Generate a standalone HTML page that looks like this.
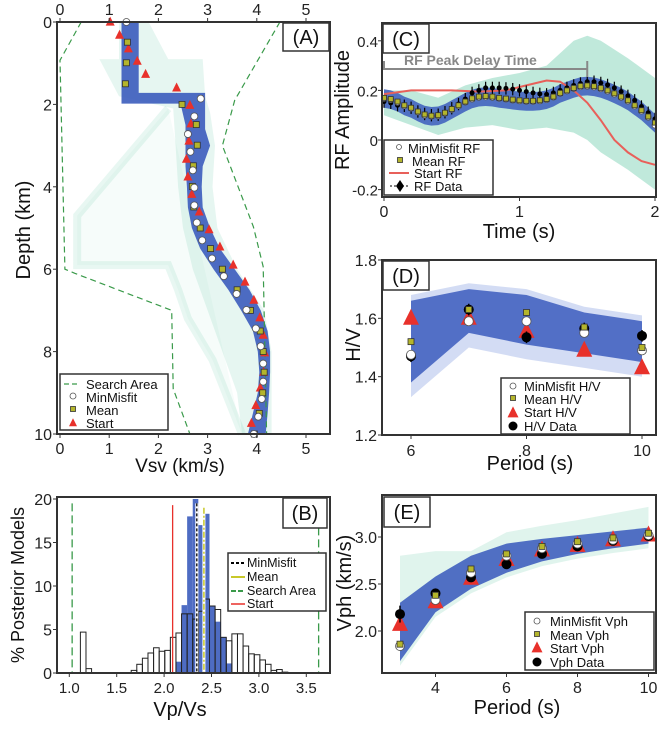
<!DOCTYPE html>
<html><head><meta charset="utf-8">
<style>
html,body{margin:0;padding:0;background:#fff;}
svg{display:block;font-family:"Liberation Sans",sans-serif;}
</style></head>
<body>
<svg id="fig" width="666" height="730" viewBox="0 0 666 730" xmlns="http://www.w3.org/2000/svg"></svg>
<script>
// ---------- Panel A data ----------
const aMinDepth=[0,1.86,1.86,2.29,2.72,3.15,3.6,4.02,4.45,4.87,5.3,5.74,6.17,6.6,6.99,7.44,7.87,8.29,8.73,9.15,9.58,10];
const aMinVs=[1.35,1.34,2.86,2.73,2.6,2.65,2.7,2.73,2.73,2.78,2.89,3.09,3.33,3.59,3.79,3.98,4.08,4.13,4.13,4.1,4.03,3.94];
const aMeanDepth=[0.49,0.99,1.5,2.0,2.49,2.99,3.49,3.99,4.49,5.0,5.5,6.0,6.5,7.0,7.5,8.0,8.5,9.0,9.5,10];
const aMeanVs=[1.37,1.35,1.33,2.48,2.77,2.79,2.71,2.69,2.72,2.85,3.06,3.3,3.6,3.87,4.07,4.13,4.15,4.12,4.05,3.95];
const aStartDepth=[0,0.32,0.65,0.95,1.27,1.6,2.02,2.47,2.89,3.33,3.76,4.18,4.61,5.04,5.46,5.9,6.31,6.75,7.18,7.6,8.03,8.5,8.88,9.31,9.74];
const aStartVs=[1.02,1.21,1.39,1.57,1.74,2.37,2.64,2.66,2.62,2.57,2.6,2.68,2.83,3.03,3.25,3.52,3.76,3.94,4.06,4.13,4.16,4.14,4.07,3.98,3.89];
const aSearchLDepth=[0,0.93,6.0,6.1,6.95,7.0,8.9,10];
const aSearchLVs=[0.43,0.0,0.1,0.3,2.16,2.27,2.3,2.64];
const aSearchRDepth=[0,1.9,3.0,4.97,5.94,10];
const aSearchRVs=[4.47,3.55,3.3,3.93,4.13,4.2];
const aBlueRDepth=[0,1.72,1.72,2.6,3.0,3.5,4.0,4.5,5.0,5.5,6.0,6.5,7.0,7.5,8.0,8.5,9.0,9.5,10];
const aBlueRVs=[1.6,1.6,2.95,2.95,3.05,2.9,2.88,2.9,3.05,3.25,3.55,3.85,4.08,4.22,4.27,4.27,4.25,4.22,4.18];
const aBlueLDepth=[0,1.98,1.98,2.5,3.0,3.5,4.0,4.5,5.0,5.5,6.0,6.5,7.0,7.5,8.0,8.5,9.0,9.5,10];
const aBlueLVs=[1.25,1.25,2.45,2.55,2.55,2.55,2.58,2.6,2.68,2.85,3.12,3.42,3.68,3.92,4.02,4.05,4.02,3.92,3.82];
const aGreenRDepth=[0,0.9,0.9,1.8,2.2,3.0,4.0,5.0,6.0,7.0,8.0,9.0,10];
const aGreenRVs=[1.8,2.2,2.9,2.95,3.05,3.15,3.1,3.2,3.6,4.15,4.3,4.3,4.3];
const aGreenLDepth=[0,0.9,0.9,1.8,2.1,3.0,4.0,5.0,6.0,7.0,8.0,9.0,10];
const aGreenLVs=[1.2,1.2,0.8,1.2,2.3,2.35,2.4,2.5,2.7,3.0,3.3,3.6,3.7];
const aStreak1Depth=[2.1,4.7,4.7,5.9,5.9,6.5,7.2,8.2,10];
const aStreak1Vs=[2.2,0.35,0.35,0.35,2.2,2.4,2.6,3.1,3.7];
const aTicks=[0,1,2,3,4,5];
const aDepthTicks=[0,2,4,6,8,10];
// ---------- Panel B data ----------
const bBinWidth=0.059;
const bWhiteStart=[1.117,1.176,1.653,1.712,1.771,1.830,1.889,1.948,2.007,2.066,2.125,2.184,2.243,2.302,2.361,2.420,2.479,2.538,2.597,2.656,2.715,2.774,2.833,2.892,2.951,3.010,3.069,3.128,3.187,3.246];
const bWhiteVal=[4.7,0.5,0.3,1.0,1.7,2.3,2.9,2.5,2.6,4.1,4.6,6.8,6.8,6.2,7.1,8.5,7.7,7.3,4.1,3.7,4.5,4.5,3.1,2.2,2.1,1.5,1.0,0.3,0.4,0.1];
const bBlueStart=[2.125,2.184,2.243,2.302,2.361,2.420,2.479,2.538,2.597,2.656];
const bBlueVal=[1.3,7.8,18,20,17,18.3,7.7,5.9,4.1,1.1];
const bStart=2.09, bMinMisfit=2.345, bMean=2.42, bSearch=[1.03,3.63];
const bXTicks=[1.0,1.5,2.0,2.5,3.0,3.5];
const bYTicks=[0,5,10,15,20];
// ---------- Panel C data ----------
const cTime=[0,.05,.1,.15,.2,.25,.3,.35,.4,.45,.5,.55,.6,.65,.7,.75,.8,.85,.9,.95,1.0,1.05,1.1,1.15,1.2,1.25,1.3,1.35,1.4,1.45,1.5,1.55,1.6,1.65,1.7,1.75,1.8,1.85,1.9,1.95,2.0];
const cMean=[.17,.165,.155,.14,.13,.115,.103,.098,.1,.11,.125,.14,.155,.168,.175,.177,.175,.17,.167,.163,.16,.158,.158,.16,.165,.175,.19,.2,.21,.218,.22,.217,.21,.2,.188,.175,.16,.14,.12,.095,.07];
const cMin=[.168,.163,.152,.138,.128,.113,.1,.096,.098,.108,.123,.138,.153,.165,.172,.174,.172,.168,.165,.161,.158,.156,.156,.158,.163,.173,.188,.198,.208,.215,.217,.214,.207,.197,.185,.172,.157,.137,.117,.092,.06];
const cData=[.155,.15,.14,.138,.13,.115,.105,.1,.102,.112,.128,.145,.165,.19,.2,.21,.21,.21,.208,.205,.2,.195,.19,.186,.184,.19,.2,.21,.22,.228,.235,.235,.23,.222,.21,.195,.178,.16,.135,.11,.085];
const cStartT=[0,0.2,0.5,0.7,0.9,1.05,1.2,1.3,1.4,1.5,1.6,1.7,1.8,1.9,2.0];
const cStartV=[0.185,0.2,0.2,0.195,0.2,0.22,0.24,0.235,0.2,0.15,0.08,0.0,-0.05,-0.085,-0.1];
const cGreenT=[0,0.2,0.4,0.6,0.8,1.0,1.2,1.4,1.5,1.6,1.8,2.0];
const cGreenLo=[0.1,0.06,0.02,0.05,0.06,0.04,0.05,0.03,0.0,-0.05,-0.12,-0.2];
const cGreenHi=[0.2,0.2,0.17,0.22,0.25,0.27,0.3,0.4,0.42,0.4,0.33,0.25];
const cXTicks=[0,1,2];
const cYTicks=[-0.2,0,0.2,0.4];
const cYLabels=["-0.2","0","0.2","0.4"];
// ---------- Panel D data ----------
const dPeriod=[6,7,8,9,10];
const dMin=[1.475,1.59,1.59,1.55,1.49];
const dMean=[1.52,1.63,1.62,1.57,1.50];
const dStart=[1.60,1.60,1.555,1.49,1.43];
const dData=[1.47,1.63,1.535,1.565,1.54];
const dLo=[1.38,1.55,1.51,1.48,1.45];
const dHi=[1.66,1.7,1.68,1.62,1.59];
const dXTicks=[6,8,10];
const dYTicks=[1.2,1.4,1.6,1.8];
// ---------- Panel E data ----------
const ePeriod=[3,4,5,6,7,8,9,10];
const eMin=[1.84,2.33,2.62,2.8,2.88,2.93,2.97,3.02];
const eMean=[1.86,2.38,2.66,2.82,2.9,2.95,2.99,3.04];
const eStart=[2.07,2.31,2.56,2.76,2.86,2.91,2.97,3.02];
const eData=[2.18,2.40,2.57,2.71,2.82,2.9,2.96,3.01];
const eLo=[1.68,2.2,2.45,2.62,2.74,2.82,2.88,2.93];
const eHi=[2.3,2.58,2.8,2.93,2.98,3.02,3.06,3.1];
const eGreenHi=[2.8,2.85,2.85,3.05,3.12,3.18,3.25,3.32];
const eXTicks=[4,6,8,10];
const eYTicks=[2.0,2.5,3.0];

const NS="http://www.w3.org/2000/svg";
const svg=document.getElementById('fig');
function mk(tag,attrs,parent){const e=document.createElementNS(NS,tag);for(const k in attrs)e.setAttribute(k,attrs[k]);(parent||svg).appendChild(e);return e;}
function txt(s,attrs,parent){const e=mk('text',attrs,parent);e.textContent=s;return e;}
function pts(xs,ys,fx,fy){return xs.map((x,i)=>fx(x).toFixed(1)+','+fy(ys[i]).toFixed(1)).join(' ');}
function bandPts(xs,lo,hi,fx,fy){return pts(xs,hi,fx,fy)+' '+pts(xs.slice().reverse(),lo.slice().reverse(),fx,fy);}
const BLUE='#3b5cbd',GREEN='#62c8a6',RED='#e8312b',OLIVE='#b4b52c';
function circ(g,x,y,r){const e=mk('circle',{cx:x,cy:y,r:r,fill:'#fff',stroke:'#555','stroke-width':0.8},g);return e;}
function sq(g,x,y,s){return mk('rect',{x:x-s/2,y:y-s/2,width:s,height:s,fill:OLIVE,stroke:'#333','stroke-width':0.8},g);}
function tri(g,x,y,s){return mk('polygon',{points:`${x},${y-s*0.6} ${x-s/2},${y+s*0.4} ${x+s/2},${y+s*0.4}`,fill:RED},g);}
function dot(g,x,y,r){return mk('circle',{cx:x,cy:y,r:r,fill:'#000'},g);}

// ================= PANEL A =================
const xA=v=>60+v*49.2, yA=d=>22+d*41.2;
let gA=mk('g',{});


let e;
e=mk('polygon',{points:pts(aGreenRDepth.map((d,i)=>aGreenRVs[i]),aGreenRDepth,xA,yA)+' '+pts(aGreenLVs.slice().reverse(),aGreenLDepth.slice().reverse(),xA,yA),fill:GREEN,opacity:0.16},gA);


e=mk('polyline',{points:pts(aStreak1Vs,aStreak1Depth,xA,yA),fill:GREEN,'fill-opacity':0.06,stroke:GREEN,'stroke-opacity':0.15,'stroke-width':8},gA);


e=mk('polygon',{points:pts(aBlueRVs,aBlueRDepth,xA,yA)+' '+pts(aBlueLVs.slice().reverse(),aBlueLDepth.slice().reverse(),xA,yA),fill:BLUE,opacity:0.9},gA);


e=mk('polyline',{points:pts(aSearchLVs,aSearchLDepth,xA,yA),fill:'none',stroke:'#3a9a4a','stroke-width':1.2,'stroke-dasharray':'6,4'},gA);


e=mk('polyline',{points:pts(aSearchRVs,aSearchRDepth,xA,yA),fill:'none',stroke:'#3a9a4a','stroke-width':1.2,'stroke-dasharray':'6,4'},gA);


aStartDepth.forEach((d,i)=>{const t=tri(gA,xA(aStartVs[i]),yA(d),9);

});
aMeanDepth.forEach((d,i)=>{const t=sq(gA,xA(aMeanVs[i]),yA(d),6);

});
aMinDepth.forEach((d,i)=>{if(i===1)return;const t=circ(gA,xA(aMinVs[i]),yA(d),3.5);

});
e=mk('rect',{x:57,y:22,width:273,height:412,fill:'none',stroke:'#333','stroke-width':2},gA);


aTicks.forEach(v=>{
 mk('line',{x1:xA(v),x2:xA(v),y1:434,y2:438,stroke:'#333'},gA);
 mk('line',{x1:xA(v),x2:xA(v),y1:22,y2:18,stroke:'#333'},gA);
 const t1=txt(String(v),{x:xA(v),y:454,'font-size':16,'text-anchor':'middle',fill:'#222'},gA);
 
 
 const t2=txt(String(v),{x:xA(v),y:15,'font-size':16,'text-anchor':'middle',fill:'#222'},gA);
 
 
});
aDepthTicks.forEach(v=>{
 mk('line',{x1:57,x2:53,y1:yA(v),y2:yA(v),stroke:'#333'},gA);
 const t=txt(String(v),{x:52,y:yA(v)+6,'font-size':16,'text-anchor':'end',fill:'#222'},gA);
 
 
});
e=txt('Vsv (km/s)',{x:180,y:472,'font-size':19,'text-anchor':'middle',fill:'#111'},gA);


e=txt('Depth (km)',{x:0,y:0,'font-size':20,'text-anchor':'middle',fill:'#111',transform:'translate(30,230) rotate(-90)'},gA);


e=mk('rect',{x:283,y:23,width:46,height:28,fill:'#fff',stroke:'#333','stroke-width':1.5},gA);


e=txt('(A)',{x:306,y:44,'font-size':20,'text-anchor':'middle',fill:'#111'},gA);


let lgA=mk('g',{},gA);


mk('rect',{x:60,y:374,width:108,height:56,fill:'#fff',stroke:'#333','stroke-width':1.5},lgA);
mk('line',{x1:64,x2:80,y1:384,y2:384,stroke:'#3a9a4a','stroke-dasharray':'5,3','stroke-width':1.2},lgA);
e=txt('Search Area',{x:86,y:389,'font-size':13,fill:'#111'},lgA);


circ(lgA,73,396,3);
e=txt('MinMisfit',{x:86,y:402,'font-size':13,fill:'#111'},lgA);


sq(lgA,73,409,5);
e=txt('Mean',{x:86,y:415,'font-size':13,fill:'#111'},lgA);


tri(lgA,73,423,8);
e=txt('Start',{x:86,y:428,'font-size':13,fill:'#111'},lgA);



// ================= PANEL B =================
const xB=v=>69.3+(v-1)*94.8, yB=p=>673-p*8.7;
let gB=mk('g',{});


bWhiteStart.forEach((s,i)=>{const r=mk('rect',{x:xB(s),y:yB(bWhiteVal[i]),width:xB(s+bBinWidth)-xB(s),height:673-yB(bWhiteVal[i]),fill:'#fff'},gB);

});
bBlueStart.forEach((s,i)=>{const r=mk('rect',{x:xB(s),y:yB(bBlueVal[i]),width:xB(s+bBinWidth)-xB(s),height:673-yB(bBlueVal[i]),fill:BLUE,opacity:0.9},gB);

});
bWhiteStart.forEach((s,i)=>{const r=mk('rect',{x:xB(s),y:yB(bWhiteVal[i]),width:xB(s+bBinWidth)-xB(s),height:673-yB(bWhiteVal[i]),fill:'none',stroke:'#222','stroke-width':1},gB);

});
bSearch.forEach(v=>{const l=mk('line',{x1:xB(v),x2:xB(v),y1:yB(19.5),y2:673,stroke:'#3a9a4a','stroke-width':1.3,'stroke-dasharray':'8,4'},gB);

});
e=mk('line',{x1:xB(bStart),x2:xB(bStart),y1:yB(19.3),y2:673,stroke:RED,'stroke-width':1.3},gB);


e=mk('line',{x1:xB(bMinMisfit),x2:xB(bMinMisfit),y1:yB(19.5),y2:673,stroke:'#fff','stroke-width':3},gB);


e=mk('line',{x1:xB(bMinMisfit),x2:xB(bMinMisfit),y1:yB(19.5),y2:673,stroke:'#000','stroke-width':1.3,'stroke-dasharray':'3,2'},gB);


e=mk('line',{x1:xB(bMean),x2:xB(bMean),y1:yB(19),y2:673,stroke:'#fff','stroke-width':3},gB);


e=mk('line',{x1:xB(bMean),x2:xB(bMean),y1:yB(19),y2:673,stroke:'#c8c82a','stroke-width':1.5,'stroke-dasharray':'6,2,2,2'},gB);


e=mk('rect',{x:57,y:497,width:273,height:176,fill:'none',stroke:'#333','stroke-width':2},gB);


bXTicks.forEach(v=>{mk('line',{x1:xB(v),x2:xB(v),y1:673,y2:677,stroke:'#333'},gB);
 const t=txt(v.toFixed(1),{x:xB(v),y:693,'font-size':15,'text-anchor':'middle',fill:'#222'},gB);
 
 });
bYTicks.forEach(v=>{mk('line',{x1:57,x2:53,y1:yB(v),y2:yB(v),stroke:'#333'},gB);
 const t=txt(String(v),{x:52,y:yB(v)+6,'font-size':16,'text-anchor':'end',fill:'#222'},gB);
 
 });
e=txt('Vp/Vs',{x:180,y:716,'font-size':20,'text-anchor':'middle',fill:'#111'},gB);


e=txt('% Posterior Models',{x:0,y:0,'font-size':18,'text-anchor':'middle',fill:'#111',transform:'translate(24,585) rotate(-90)'},gB);


e=mk('rect',{x:283,y:498,width:44,height:30,fill:'#fff',stroke:'#333','stroke-width':1.5},gB);


e=txt('(B)',{x:305,y:520,'font-size':20,'text-anchor':'middle',fill:'#111'},gB);


let lgB=mk('g',{},gB);


mk('rect',{x:228,y:553,width:98,height:58,fill:'#fff',stroke:'#333','stroke-width':1.5},lgB);
mk('line',{x1:231,x2:245,y1:563,y2:563,stroke:'#000','stroke-width':2,'stroke-dasharray':'3,2'},lgB);
e=txt('MinMisfit',{x:247,y:567,'font-size':12.5,fill:'#111'},lgB);


mk('line',{x1:231,x2:245,y1:577,y2:577,stroke:'#c8c82a','stroke-width':2},lgB);
e=txt('Mean',{x:247,y:581,'font-size':12.5,fill:'#111'},lgB);


mk('line',{x1:231,x2:245,y1:591,y2:591,stroke:'#3a9a4a','stroke-width':2,'stroke-dasharray':'5,2'},lgB);
e=txt('Search Area',{x:247,y:595,'font-size':12.5,fill:'#111'},lgB);


mk('line',{x1:231,x2:245,y1:604,y2:604,stroke:RED,'stroke-width':1.5},lgB);
e=txt('Start',{x:247,y:608,'font-size':12.5,fill:'#111'},lgB);



// ================= PANEL C =================
const xC=t=>384+t*135.5, yC=a=>140-a*248;
let gC=mk('g',{});


mk('defs',{},gC).innerHTML='<clipPath id="clipC"><rect x="382" y="23" width="274" height="174"/></clipPath><clipPath id="clipD"><rect x="382" y="260" width="274" height="175"/></clipPath><clipPath id="clipE"><rect x="382" y="495" width="274" height="178"/></clipPath>';
let gCc=mk('g',{'clip-path':'url(#clipC)'},gC);
e=mk('polygon',{points:bandPts(cGreenT,cGreenLo,cGreenHi,xC,yC),fill:GREEN,opacity:0.4},gCc);


e=mk('polygon',{points:bandPts(cTime,cMean.map(v=>v-0.04),cMean.map(v=>v+0.035),xC,yC),fill:BLUE,opacity:0.85},gCc);


e=mk('polyline',{points:pts(cStartT,cStartV,xC,yC),fill:'none',stroke:'#e8605a','stroke-width':2},gCc);


cTime.forEach((t,i)=>{
 const l=mk('line',{x1:xC(t),x2:xC(t),y1:yC(cData[i]+0.025),y2:yC(cData[i]-0.025),stroke:'#000','stroke-width':1.2},gCc);
 
 
 const d=dot(gCc,xC(t),yC(cData[i]),2.5);
 
 
});
cTime.forEach((t,i)=>{const c=circ(gCc,xC(t),yC(cMin[i]),3);
 
 
 const s=sq(gCc,xC(t),yC(cMean[i]),5);
 
 });
e=mk('rect',{x:382,y:23,width:274,height:174,fill:'none',stroke:'#333','stroke-width':2},gC);


cXTicks.forEach(v=>{mk('line',{x1:xC(v),x2:xC(v),y1:197,y2:201,stroke:'#333'},gC);
 const t=txt(String(v),{x:xC(v),y:217,'font-size':16,'text-anchor':'middle',fill:'#222'},gC);
 
 });
cYTicks.forEach((v,i)=>{mk('line',{x1:382,x2:378,y1:yC(v),y2:yC(v),stroke:'#333'},gC);
 const t=txt(cYLabels[i],{x:378,y:yC(v)+6,'font-size':15,'text-anchor':'end',fill:'#222'},gC);
 
 });
e=txt('Time (s)',{x:519,y:238,'font-size':20,'text-anchor':'middle',fill:'#111'},gC);


e=txt('RF Amplitude',{x:0,y:0,'font-size':20,'text-anchor':'middle',fill:'#111',transform:'translate(349,110) rotate(-90)'},gC);


e=mk('polyline',{points:`${xC(0)},61 ${xC(0)},69 ${xC(1.5)},69`,fill:'none',stroke:'#888','stroke-width':2},gC);


e=mk('line',{x1:xC(1.5),x2:xC(1.5),y1:61,y2:77,stroke:'#888','stroke-width':2},gC);


e=txt('RF Peak Delay Time',{x:404,y:65,'font-size':14,'font-weight':'bold',fill:'#888'},gC);


e=mk('rect',{x:383,y:24,width:46,height:29,fill:'#fff',stroke:'#333','stroke-width':1.5},gC);


e=txt('(C)',{x:406,y:46,'font-size':20,'text-anchor':'middle',fill:'#111'},gC);


let lgC=mk('g',{},gC);


mk('rect',{x:384,y:140,width:109,height:55,fill:'#fff',stroke:'#333','stroke-width':1.5},lgC);
circ(lgC,399,147,2.5);
e=txt('MinMisfit RF',{x:408,y:153,'font-size':13,fill:'#111'},lgC);


sq(lgC,400,160,5);
e=txt('Mean RF',{x:412,y:166,'font-size':13,fill:'#111'},lgC);


mk('line',{x1:389,x2:409,y1:173,y2:173,stroke:'#e8605a','stroke-width':2},lgC);
e=txt('Start RF',{x:414,y:178,'font-size':13,fill:'#111'},lgC);


mk('line',{x1:390,x2:410,y1:186,y2:186,stroke:'#000','stroke-dasharray':'2,2'},lgC);
mk('polygon',{points:'400,180 404,186 400,192 396,186',fill:'#000'},lgC);
e=txt('RF Data',{x:414,y:191,'font-size':13,fill:'#111'},lgC);



// ================= PANEL D =================
const xD=p=>411+(p-6)*57.75, yD=h=>435-(h-1.2)*291.7;
let gD=mk('g',{});


let gDc=mk('g',{'clip-path':'url(#clipD)'},gD);
e=mk('polygon',{points:bandPts(dPeriod,dLo.map(v=>v-0.05),dHi.map(v=>v+0.02),xD,yD),fill:'#b5c4ec',opacity:0.6},gDc);


e=mk('polygon',{points:bandPts(dPeriod,dLo,dHi,xD,yD),fill:BLUE,opacity:0.85},gDc);


dPeriod.forEach((p,i)=>{
 let m=tri(gDc,xD(p),yD(dStart[i]),16);
 
 
 m=mk('line',{x1:xD(p),x2:xD(p),y1:yD(dData[i]+0.02),y2:yD(dData[i]-0.02),stroke:'#000','stroke-width':1.5},gDc);
 
 
 m=dot(gDc,xD(p),yD(dData[i]),5);
 
 
 m=circ(gDc,xD(p),yD(dMin[i]),4.5);
 
 
 m=sq(gDc,xD(p),yD(dMean[i]),6);
 
 
});
e=mk('rect',{x:382,y:260,width:274,height:175,fill:'none',stroke:'#333','stroke-width':2},gD);


dXTicks.forEach(v=>{mk('line',{x1:xD(v),x2:xD(v),y1:435,y2:439,stroke:'#333'},gD);
 const t=txt(String(v),{x:xD(v),y:456,'font-size':16,'text-anchor':'middle',fill:'#222'},gD);
 
 });
dYTicks.forEach(v=>{mk('line',{x1:382,x2:378,y1:yD(v),y2:yD(v),stroke:'#333'},gD);
 const t=txt(v.toFixed(1),{x:377,y:yD(v)+6,'font-size':16,'text-anchor':'end',fill:'#222'},gD);
 
 });
e=txt('Period (s)',{x:530,y:470,'font-size':20,'text-anchor':'middle',fill:'#111'},gD);


e=txt('H/V',{x:0,y:0,'font-size':20,'text-anchor':'middle',fill:'#111',transform:'translate(360,345) rotate(-90)'},gD);


e=mk('rect',{x:383,y:261,width:46,height:29,fill:'#fff',stroke:'#333','stroke-width':1.5},gD);


e=txt('(D)',{x:406,y:283,'font-size':20,'text-anchor':'middle',fill:'#111'},gD);


let lgD=mk('g',{},gD);


mk('rect',{x:501,y:378,width:129,height:56,fill:'#fff',stroke:'#333','stroke-width':1.5},lgD);
circ(lgD,513,386,3);
e=txt('MinMisfit H/V',{x:524,y:391,'font-size':13,fill:'#111'},lgD);


sq(lgD,513,398,5);
e=txt('Mean H/V',{x:524,y:404,'font-size':13,fill:'#111'},lgD);


tri(lgD,513,413,11);
e=txt('Start H/V',{x:524,y:417,'font-size':13,fill:'#111'},lgD);


dot(lgD,513,426,4.5);
e=txt('H/V Data',{x:524,y:431,'font-size':13,fill:'#111'},lgD);



// ================= PANEL E =================
const xE=p=>400+(p-3)*35.5, yE=v=>631-(v-2)*94;
let gE=mk('g',{});


let gEc=mk('g',{'clip-path':'url(#clipE)'},gE);
e=mk('polygon',{points:bandPts(ePeriod,eLo.map(v=>v-0.05),eGreenHi,xE,yE),fill:GREEN,opacity:0.2},gEc);


e=mk('polygon',{points:bandPts(ePeriod,eLo,eHi,xE,yE),fill:BLUE,opacity:0.88},gEc);


ePeriod.forEach((p,i)=>{
 let m=tri(gEc,xE(p),yE(eStart[i]),16);
 
 
 m=mk('line',{x1:xE(p),x2:xE(p),y1:yE(eData[i]+(i===0?0.09:0.04)),y2:yE(eData[i]-(i===0?0.09:0.04)),stroke:'#000','stroke-width':1.5},gEc);
 
 
 m=dot(gEc,xE(p),yE(eData[i]),5);
 
 
 m=circ(gEc,xE(p),yE(eMin[i]),4.5);
 
 
 m=sq(gEc,xE(p),yE(eMean[i]),6);
 
 
});
e=mk('rect',{x:382,y:495,width:274,height:178,fill:'none',stroke:'#333','stroke-width':2},gE);


eXTicks.forEach(v=>{mk('line',{x1:xE(v),x2:xE(v),y1:673,y2:677,stroke:'#333'},gE);
 const t=txt(String(v),{x:xE(v),y:693,'font-size':16,'text-anchor':'middle',fill:'#222'},gE);
 
 });
eYTicks.forEach(v=>{mk('line',{x1:382,x2:378,y1:yE(v),y2:yE(v),stroke:'#333'},gE);
 const t=txt(v.toFixed(1),{x:377,y:yE(v)+6,'font-size':16,'text-anchor':'end',fill:'#222'},gE);
 
 });
e=txt('Period (s)',{x:517,y:714,'font-size':20,'text-anchor':'middle',fill:'#111'},gE);


e=txt('Vph (km/s)',{x:0,y:0,'font-size':20,'text-anchor':'middle',fill:'#111',transform:'translate(351,583) rotate(-90)'},gE);


e=mk('rect',{x:384,y:497,width:46,height:30,fill:'#fff',stroke:'#333','stroke-width':1.5},gE);


e=txt('(E)',{x:407,y:519,'font-size':20,'text-anchor':'middle',fill:'#111'},gE);


let lgE=mk('g',{},gE);


mk('rect',{x:525,y:612,width:129,height:58,fill:'#fff',stroke:'#333','stroke-width':1.5},lgE);
circ(lgE,537,621,3);
e=txt('MinMisfit Vph',{x:550,y:626,'font-size':13,fill:'#111'},lgE);


sq(lgE,537,634,5);
e=txt('Mean Vph',{x:550,y:640,'font-size':13,fill:'#111'},lgE);


tri(lgE,537,648,11);
e=txt('Start Vph',{x:550,y:653,'font-size':13,fill:'#111'},lgE);


dot(lgE,537,662,4.5);
e=txt('Vph Data',{x:550,y:667,'font-size':13,fill:'#111'},lgE);


</script>
</body></html>
